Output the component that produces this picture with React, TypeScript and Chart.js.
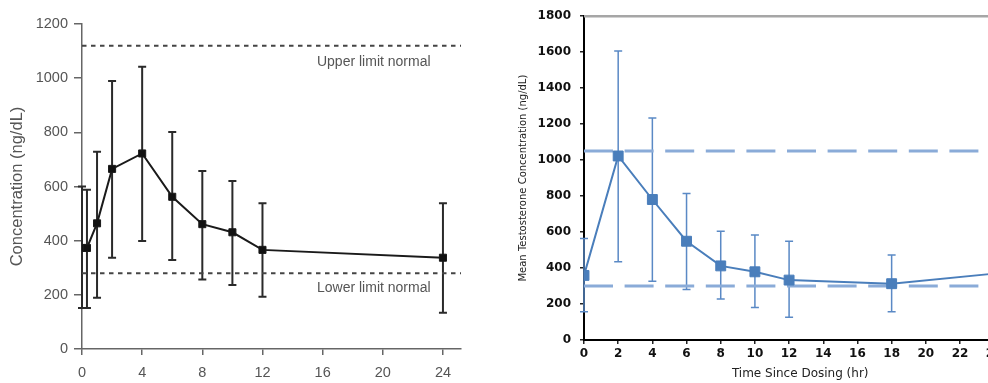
import React, { useEffect, useRef } from "react";
import { Chart, registerables } from "chart.js";

Chart.register(...registerables);

// ---------- Left panel data ----------
const LEFT_TIMES = [0, 0.33, 1, 2, 4, 6, 8, 10, 12, 24];
const LEFT_MEAN = [373, 373, 464, 665, 722, 562, 461, 431, 366, 337];
const LEFT_HIGH = [600, 588, 728, 990, 1042, 801, 657, 620, 538, 538];
const LEFT_LOW = [151, 151, 189, 337, 399, 329, 257, 236, 193, 134];
const LEFT_X_TICKS = [0, 4, 8, 12, 16, 20, 24];
const LEFT_Y_MAX = 1200;
const LEFT_Y_STEP = 200;
const LEFT_X_MAX = 25.2;
const LEFT_UPPER_LIMIT = 1120;
const LEFT_LOWER_LIMIT = 280;
const LEFT_LIMIT_LABELS = ["Upper limit normal", "Lower limit normal"];
const LEFT_LIMIT_LABEL_X = 19.4;
const LEFT_Y_TITLE = "Concentration (ng/dL)";

// ---------- Right panel data ----------
const RIGHT_TIMES = [0, 2, 4, 6, 8, 10, 12, 18, 24];
const RIGHT_MEAN = [359, 1023, 781, 549, 412, 379, 333, 313, 369];
const RIGHT_HIGH: (number | null)[] = [564, 1606, 1234, 814, 605, 583, 549, 472, null];
const RIGHT_LOW: (number | null)[] = [157, 435, 327, 281, 228, 181, 126, 157, null];
const RIGHT_X_TICKS = [0, 2, 4, 6, 8, 10, 12, 14, 16, 18, 20, 22, 24];
const RIGHT_Y_MAX = 1800;
const RIGHT_Y_STEP = 200;
const RIGHT_X_MAX = 25.3;
const RIGHT_UPPER_LIMIT = 1050;
const RIGHT_LOWER_LIMIT = 300;
const RIGHT_Y_TITLE = "Mean Testosterone Concentration (ng/dL)";
const RIGHT_X_TITLE = "Time Since Dosing (hr)";

const SANS = "'Liberation Sans', Arial, Helvetica, sans-serif";
const DEJAVU = "'DejaVu Sans', Verdana, sans-serif";

function errorBarPlugin(id: string, times: number[], low: (number | null)[], high: (number | null)[], color: string, width: number, cap: number) {
  return {
    id,
    beforeDatasetsDraw(chart: any) {
      const ctx = chart.ctx;
      const xs = chart.scales.x;
      const ys = chart.scales.y;
      ctx.save();
      ctx.strokeStyle = color;
      ctx.lineWidth = width;
      for (let i = 0; i < times.length; i++) {
        const h = high[i];
        const l = low[i];
        if (h == null || l == null) continue;
        const px = xs.getPixelForValue(times[i]);
        const top = ys.getPixelForValue(h);
        const bot = ys.getPixelForValue(l);
        ctx.beginPath();
        ctx.moveTo(px, top);
        ctx.lineTo(px, bot);
        ctx.moveTo(px - cap, top);
        ctx.lineTo(px + cap, top);
        ctx.moveTo(px - cap, bot);
        ctx.lineTo(px + cap, bot);
        ctx.stroke();
      }
      ctx.restore();
    },
  };
}

function yTicks(max: number, step: number) {
  const t: number[] = [];
  for (let v = 0; v <= max; v += step) t.push(v);
  return t;
}

const plain = (v: any) => String(v);

export default function App() {
  const leftRef = useRef<HTMLCanvasElement>(null);
  const rightRef = useRef<HTMLCanvasElement>(null);

  useEffect(() => {
    const leftLabels = {
      id: "limitLabels",
      afterDatasetsDraw(chart: any) {
        const ctx = chart.ctx;
        const xs = chart.scales.x;
        const ys = chart.scales.y;
        ctx.save();
        ctx.font = `14px ${SANS}`;
        ctx.fillStyle = "#555";
        ctx.textAlign = "center";
        ctx.textBaseline = "middle";
        const x = xs.getPixelForValue(LEFT_LIMIT_LABEL_X);
        ctx.fillText(LEFT_LIMIT_LABELS[0], x, ys.getPixelForValue(LEFT_UPPER_LIMIT) + 16);
        ctx.fillText(LEFT_LIMIT_LABELS[1], x, ys.getPixelForValue(LEFT_LOWER_LIMIT) + 15);
        ctx.restore();
      },
    };

    const left = new Chart(leftRef.current!, {
      type: "line",
      data: {
        datasets: [
          {
            data: LEFT_TIMES.map((t, i) => ({ x: t, y: LEFT_MEAN[i] })),
            borderColor: "#1a1a1a",
            backgroundColor: "#111",
            borderWidth: 2,
            pointStyle: "rect",
            pointRadius: 5,
            pointBorderWidth: 1,
            tension: 0,
          },
          {
            data: [
              { x: 0, y: LEFT_UPPER_LIMIT },
              { x: LEFT_X_MAX, y: LEFT_UPPER_LIMIT },
            ],
            borderColor: "#444",
            borderWidth: 2,
            borderDash: [4.5, 4.5],
            pointRadius: 0,
          },
          {
            data: [
              { x: 0, y: LEFT_LOWER_LIMIT },
              { x: LEFT_X_MAX, y: LEFT_LOWER_LIMIT },
            ],
            borderColor: "#444",
            borderWidth: 2,
            borderDash: [4.5, 4.5],
            pointRadius: 0,
          },
        ],
      },
      options: {
        animation: false,
        responsive: false,
        layout: { padding: { left: 8, right: 19, top: 24, bottom: 0 } },
        plugins: { legend: { display: false }, tooltip: { enabled: false } },
        scales: {
          x: {
            type: "linear",
            min: 0,
            max: LEFT_X_MAX,
            afterBuildTicks: (s: any) => {
              s.ticks = LEFT_X_TICKS.map((v) => ({ value: v }));
            },
            afterFit: (s: any) => {
              s.height = 34;
            },
            grid: { display: true, drawOnChartArea: false, drawTicks: true, tickLength: 6, color: "#666", lineWidth: 1.5 },
            border: { display: true, color: "#666", width: 1.5 },
            ticks: { color: "#555", font: { family: SANS, size: 14.5 }, padding: 9, maxRotation: 0, callback: plain },
          },
          y: {
            type: "linear",
            min: 0,
            max: LEFT_Y_MAX,
            afterBuildTicks: (s: any) => {
              s.ticks = yTicks(LEFT_Y_MAX, LEFT_Y_STEP).map((v) => ({ value: v }));
            },
            afterFit: (s: any) => {
              s.width = 74;
            },
            grid: { display: true, drawOnChartArea: false, drawTicks: true, tickLength: 8, color: "#666", lineWidth: 1.5 },
            border: { display: true, color: "#666", width: 1.5 },
            ticks: { color: "#555", font: { family: SANS, size: 14.5 }, padding: 6, callback: plain },
            title: { display: true, text: LEFT_Y_TITLE, color: "#555", font: { family: SANS, size: 16.5 }, padding: { top: 0, bottom: 0 } },
          },
        },
      },
      plugins: [errorBarPlugin("leftErr", LEFT_TIMES, LEFT_LOW, LEFT_HIGH, "#2a2a2a", 2, 4), leftLabels],
    } as any);

    const topBorder = {
      id: "topBorder",
      afterDraw(chart: any) {
        const ctx = chart.ctx;
        const a = chart.chartArea;
        ctx.save();
        ctx.strokeStyle = "#a6a6a6";
        ctx.lineWidth = 2.5;
        ctx.beginPath();
        ctx.moveTo(a.left, a.top);
        ctx.lineTo(a.right, a.top);
        ctx.stroke();
        ctx.restore();
      },
    };

    const blue = "#4a7ebb";
    const dashBlue = "#8aabd8";
    const right = new Chart(rightRef.current!, {
      type: "line",
      data: {
        datasets: [
          {
            data: RIGHT_TIMES.map((t, i) => ({ x: t, y: RIGHT_MEAN[i] })),
            borderColor: blue,
            backgroundColor: blue,
            borderWidth: 2,
            pointStyle: "rect",
            pointRadius: 7,
            pointBorderWidth: 1,
            tension: 0,
          },
          {
            data: [
              { x: 0, y: RIGHT_UPPER_LIMIT },
              { x: RIGHT_X_MAX, y: RIGHT_UPPER_LIMIT },
            ],
            borderColor: dashBlue,
            borderWidth: 3,
            borderDash: [29, 11.6],
            pointRadius: 0,
          },
          {
            data: [
              { x: 0, y: RIGHT_LOWER_LIMIT },
              { x: RIGHT_X_MAX, y: RIGHT_LOWER_LIMIT },
            ],
            borderColor: dashBlue,
            borderWidth: 3,
            borderDash: [29, 11.6],
            pointRadius: 0,
          },
        ],
      },
      options: {
        animation: false,
        responsive: false,
        layout: { padding: { left: 27, right: 13.6, top: 16, bottom: 0 } },
        plugins: { legend: { display: false }, tooltip: { enabled: false } },
        scales: {
          x: {
            type: "linear",
            min: 0,
            max: RIGHT_X_MAX,
            afterBuildTicks: (s: any) => {
              s.ticks = RIGHT_X_TICKS.map((v) => ({ value: v }));
            },
            afterFit: (s: any) => {
              s.height = 43;
            },
            grid: { display: true, drawOnChartArea: false, drawTicks: true, tickLength: 4, color: "#222", lineWidth: 1.5 },
            border: { display: true, color: "#000", width: 2 },
            ticks: { color: "#111", font: { family: DEJAVU, size: 12, weight: "bold" }, padding: 3, maxRotation: 0, callback: plain },
            title: { display: true, text: RIGHT_X_TITLE, color: "#222", font: { family: DEJAVU, size: 12 }, padding: { top: 0, bottom: 2 } },
          },
          y: {
            type: "linear",
            min: 0,
            max: RIGHT_Y_MAX,
            afterBuildTicks: (s: any) => {
              s.ticks = yTicks(RIGHT_Y_MAX, RIGHT_Y_STEP).map((v) => ({ value: v }));
            },
            afterFit: (s: any) => {
              s.width = 67;
            },
            grid: { display: true, drawOnChartArea: false, drawTicks: true, tickLength: 4, color: "#222", lineWidth: 1.5 },
            border: { display: true, color: "#000", width: 2 },
            ticks: { color: "#111", font: { family: DEJAVU, size: 12, weight: "bold" }, padding: 9, callback: plain },
            title: { display: true, text: RIGHT_Y_TITLE, color: "#222", font: { family: DEJAVU, size: 10 }, padding: { top: 0, bottom: 0 } },
          },
        },
      },
      plugins: [errorBarPlugin("rightErr", RIGHT_TIMES, RIGHT_LOW, RIGHT_HIGH, "#5a89c5", 1.5, 4), topBorder],
    } as any);

    return () => {
      left.destroy();
      right.destroy();
    };
  }, []);

  return (
    <div style={{ position: "fixed", left: 0, top: 0, width: 988, height: 383, overflow: "hidden", background: "#fff" }}>
      <canvas ref={leftRef} width={480} height={383} style={{ position: "absolute", left: 0, top: 0 }} />
      <canvas ref={rightRef} width={540} height={383} style={{ position: "absolute", left: 490, top: 0 }} />
    </div>
  );
}
